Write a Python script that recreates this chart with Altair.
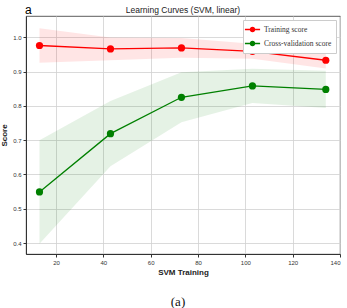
import altair as alt
import pandas as pd

train_sizes = [13, 43, 73, 103, 134]
train_mean = [0.976, 0.966, 0.969, 0.959, 0.933]
train_std = [0.050, 0.033, 0.029, 0.022, 0.024]
cv_mean = [0.549, 0.719, 0.825, 0.858, 0.848]
cv_std = [0.151, 0.095, 0.073, 0.050, 0.054]
series = ["Training score", "Cross-validation score"]
colors = ["#ff0000", "#008000"]
x_ticks = [20, 40, 60, 80, 100, 120, 140]
y_ticks = [0.4, 0.5, 0.6, 0.7, 0.8, 0.9, 1.0]

rows = []
for s, means, stds in [(series[0], train_mean, train_std), (series[1], cv_mean, cv_std)]:
    for x, m, sd in zip(train_sizes, means, stds):
        rows.append({"size": x, "score": m, "lo": m - sd, "hi": m + sd, "series": s})
df = pd.DataFrame(rows)

xs = alt.Scale(domain=[7.3, 140], nice=False, zero=False)
ys = alt.Scale(domain=[0.368, 1.062], nice=False, zero=False)
cs = alt.Scale(domain=series, range=colors)

xaxis = alt.Axis(values=x_ticks, format="d")
yaxis = alt.Axis(values=y_ticks, format=".1f")
X = alt.X("size:Q", scale=xs, title="SVM Training", axis=xaxis)
legend = alt.Legend(
    title=None, orient="top-right", offset=4,
    symbolType="M-1.6,0L1.6,0M-0.45,0A0.45,0.45,0,1,1,0.45,0A0.45,0.45,0,1,1,-0.45,0",
    symbolSize=90, symbolStrokeWidth=1.3, symbolOpacity=1,
    labelFont="Liberation Serif", labelFontSize=7.5, labelColor="#333",
    fillColor="white", strokeColor="#ccc", padding=4, rowPadding=3,
    labelOffset=6,
)
C = alt.Color("series:N", scale=cs, sort=series, legend=legend)
base = alt.Chart(df)

bands = [
    base.transform_filter(alt.datum.series == s).mark_area(opacity=0.1, fill=c).encode(
        x=X,
        y=alt.Y("lo:Q", scale=ys, title="Score", axis=yaxis),
        y2="hi:Q",
    )
    for s, c in zip(series, colors)
]
lines = base.mark_line(strokeWidth=1.3).encode(
    x=X,
    y=alt.Y("score:Q", scale=ys, title="Score", axis=yaxis),
    color=C,
)
pts = base.mark_point(filled=True, size=52, opacity=1).encode(
    x=X,
    y=alt.Y("score:Q", scale=ys, title="Score", axis=yaxis),
    color=C,
)

ann = pd.DataFrame({"t": ["a"]})
lab_a = alt.Chart(ann).mark_text(fontSize=12, font="Liberation Sans", align="left",
                                 baseline="middle").encode(
    text="t:N", x=alt.value(-1), y=alt.value(-6))
ttl = pd.DataFrame({"t": ["Learning Curves (SVM, linear)"]})
lab_t = alt.Chart(ttl).mark_text(fontSize=8.5, font="Liberation Sans", align="center",
                                 baseline="middle", color="#222").encode(
    text="t:N", x=alt.value(157), y=alt.value(-6))
cap = pd.DataFrame({"t": ["(a)"]})
lab_cap = alt.Chart(cap).mark_text(fontSize=13, font="Liberation Serif", align="center",
                                   baseline="middle", color="#111").encode(
    text="t:N", x=alt.value(152), y=alt.value(286))

chart = alt.layer(*bands, lines, pts, lab_a, lab_t, lab_cap).properties(
    width=314, height=238,
    autosize=alt.AutoSizeParams(type="none"),
    padding={"left": 26, "top": 16, "right": 7, "bottom": 54},
).configure_axis(
    labelFont="Liberation Sans", labelFontSize=6, labelColor="#333",
    titleFont="Liberation Sans", titleFontSize=8, titleFontWeight="bold", titleColor="#222",
    gridColor="#d0d0d0", gridWidth=0.8, domainColor="#333", tickColor="#333", tickSize=3,
    labelPadding=2,
).configure_axisX(titlePadding=3).configure_axisY(titlePadding=4).configure_view(
    stroke="#333", strokeWidth=0.8
)

chart.save("out.html", embed_options={"renderer": "svg", "actions": False})
